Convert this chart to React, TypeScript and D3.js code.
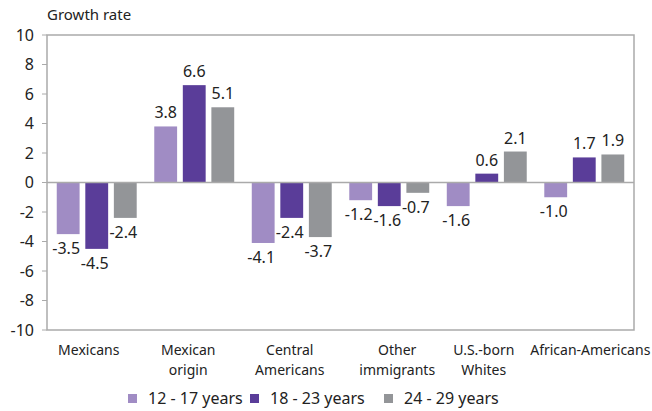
import React from "react";
import * as d3 from "d3";

const categories = [
  ["Mexicans"],
  ["Mexican", "origin"],
  ["Central", "Americans"],
  ["Other", "immigrants"],
  ["U.S.-born", "Whites"],
  ["African-Americans"],
];
const seriesNames = ["12 - 17 years", "18 - 23 years", "24 - 29 years"];
const age12to17 = [-3.5, 3.8, -4.1, -1.2, -1.6, -1.0];
const age18to23 = [-4.5, 6.6, -2.4, -1.6, 0.6, 1.7];
const age24to29 = [-2.4, 5.1, -3.7, -0.7, 2.1, 1.9];
const yTicks = [-10, -8, -6, -4, -2, 0, 2, 4, 6, 8, 10];
const colors = ["#a08cc4", "#5a3d99", "#939598"];

const W = 652;
const H = 411;
const M = { left: 47, right: 634, top: 35, bottom: 330 };
const FONT = "'Noto Sans', sans-serif";
// horizontal nudges of the category labels (layout only)
const LABEL_NUDGE = [-8, -6, -2, 8, -3, 6];

export default function App() {
  const series = [age12to17, age18to23, age24to29];
  const x0 = d3
    .scaleBand<number>()
    .domain(categories.map((_, i) => i))
    .range([M.left, M.right])
    .paddingInner(0.18)
    .paddingOuter(0.1);
  const x1 = d3
    .scaleBand<number>()
    .domain([0, 1, 2])
    .range([0, x0.bandwidth()])
    .paddingInner(0.2);
  const y = d3.scaleLinear().domain([-10, 10]).range([M.bottom, M.top]);
  const fmt = (v: number) => v.toFixed(1);

  return (
    <svg width={W} height={H} style={{ position: "absolute", left: 0, top: 0, fontFamily: FONT }}>
      <text x={47} y={20} fontSize={15} fill="#222">
        Growth rate
      </text>
      {yTicks.map((t) => (
        <g key={t}>
          <line x1={M.left - 5} x2={M.left} y1={y(t)} y2={y(t)} stroke="#aaa" />
          <text x={34} y={y(t) + 5.5} fontSize={16} textAnchor="end" fill="#222">
            {t}
          </text>
        </g>
      ))}
      {series.map((vals, s) =>
        vals.map((v, i) => {
          const bx = (x0(i) as number) + (x1(s) as number);
          const bw = x1.bandwidth();
          return (
            <g key={`${s}-${i}`}>
              <rect
                x={bx}
                y={Math.min(y(v), y(0))}
                width={bw}
                height={Math.abs(y(v) - y(0))}
                fill={colors[s]}
              />
              <text
                x={bx + bw / 2 - (v < 0 ? 2 : 0)}
                y={v >= 0 ? y(v) - 8 : y(v) + 20}
                fontSize={16}
                textAnchor="middle"
                fill="#222"
              >
                {fmt(v)}
              </text>
            </g>
          );
        })
      )}
      <line x1={M.left} x2={M.right} y1={y(0)} y2={y(0)} stroke="#aaa" strokeWidth={1.5} />
      <rect
        x={M.left}
        y={M.top}
        width={M.right - M.left}
        height={M.bottom - M.top}
        fill="none"
        stroke="#aaa"
        strokeWidth={1.5}
      />
      {categories.map((lines, i) => {
        const cx = (x0(i) as number) + x0.bandwidth() / 2 + LABEL_NUDGE[i];
        return (
          <g key={i}>
            {lines.map((l, k) => (
              <text key={k} x={cx} y={355 + k * 19.5} fontSize={14} textAnchor="middle" fill="#222">
                {l}
              </text>
            ))}
          </g>
        );
      })}
      {seriesNames.map((n, s) => {
        const lx = [128, 250, 384][s];
        return (
          <g key={n}>
            <rect x={lx} y={394} width={9} height={9} fill={colors[s]} />
            <text x={lx + 20} y={404} fontSize={16} fill="#222">
              {n}
            </text>
          </g>
        );
      })}
    </svg>
  );
}
